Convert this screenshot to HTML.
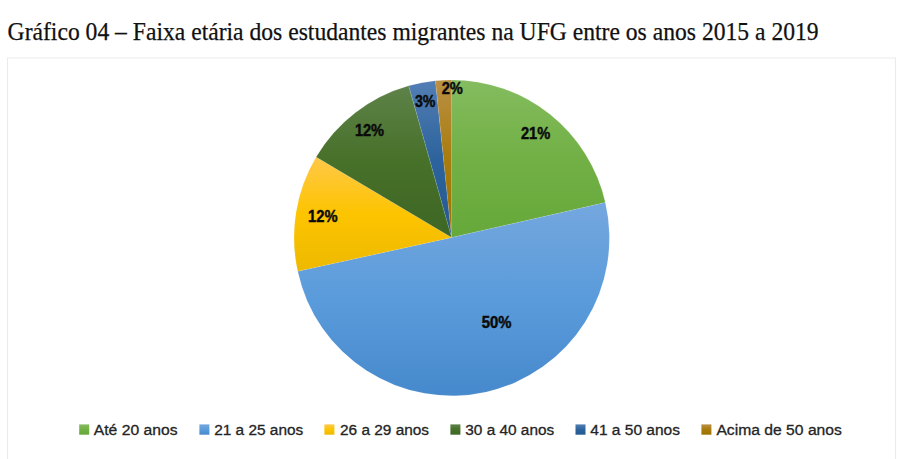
<!DOCTYPE html>
<html><head><meta charset="utf-8"><title>Gráfico 04</title><style>
html,body{margin:0;padding:0;background:#fff;}
body{width:901px;height:459px;overflow:hidden;}
svg{display:block;}
.t{font-family:"Liberation Serif",serif;font-size:24.6px;fill:#111;stroke:#111;stroke-width:0.25px;}
.lg{font-family:"Liberation Sans",sans-serif;font-size:14.9px;fill:#242424;stroke:#242424;stroke-width:0.3px;}
.dl{font-family:"Liberation Sans",sans-serif;font-size:15.7px;font-weight:bold;fill:#0a0a0a;stroke:#0a0a0a;stroke-width:0.45px;}
</style></head><body>
<svg width="901" height="459" viewBox="0 0 901 459">
<defs>
<linearGradient id="g" x1="0" y1="0" x2="0" y2="1"><stop offset="0" stop-color="#84BC5F"/><stop offset="0.5" stop-color="#72B045"/><stop offset="1" stop-color="#66A83A"/></linearGradient>
<linearGradient id="b" x1="0" y1="0" x2="0" y2="1"><stop offset="0" stop-color="#74A7DE"/><stop offset="0.5" stop-color="#5A9BDB"/><stop offset="1" stop-color="#4689CC"/></linearGradient>
<linearGradient id="y" x1="0" y1="0" x2="0" y2="1"><stop offset="0" stop-color="#FFC848"/><stop offset="0.5" stop-color="#FDC400"/><stop offset="1" stop-color="#EDB900"/></linearGradient>
<linearGradient id="dg" x1="0" y1="0" x2="0" y2="1"><stop offset="0" stop-color="#5E8249"/><stop offset="0.5" stop-color="#477029"/><stop offset="1" stop-color="#3E6625"/></linearGradient>
<linearGradient id="db" x1="0" y1="0" x2="0" y2="1"><stop offset="0" stop-color="#527EB4"/><stop offset="0.5" stop-color="#2D639C"/><stop offset="1" stop-color="#245A90"/></linearGradient>
<linearGradient id="br" x1="0" y1="0" x2="0" y2="1"><stop offset="0" stop-color="#BA9044"/><stop offset="0.5" stop-color="#A87C0E"/><stop offset="1" stop-color="#9C7200"/></linearGradient>
</defs>
<rect x="0" y="0" width="901" height="459" fill="#ffffff"/>
<path d="M7.5,459 V58 H895.5 V459" fill="none" stroke="#ebebeb" stroke-width="1.1"/>
<text x="7.6" y="39.6" class="t" textLength="811" lengthAdjust="spacingAndGlyphs">Gráfico 04 – Faixa etária dos estudantes migrantes na UFG entre os anos 2015 a 2019</text>
<path d="M451.65,237.5 L451.65,79.90 A157.6,157.6 0 0 1 605.33,202.58 Z" fill="url(#g)" stroke="#ffffff" stroke-opacity="0.16" stroke-width="0.6"/>
<path d="M451.65,237.5 L605.33,202.58 A157.6,157.6 0 1 1 297.73,271.34 Z" fill="url(#b)" stroke="#ffffff" stroke-opacity="0.16" stroke-width="0.6"/>
<path d="M451.65,237.5 L297.73,271.34 A157.6,157.6 0 0 1 316.14,157.04 Z" fill="url(#y)" stroke="#ffffff" stroke-opacity="0.16" stroke-width="0.6"/>
<path d="M451.65,237.5 L316.14,157.04 A157.6,157.6 0 0 1 408.74,85.85 Z" fill="url(#dg)" stroke="#ffffff" stroke-opacity="0.16" stroke-width="0.6"/>
<path d="M451.65,237.5 L408.74,85.85 A157.6,157.6 0 0 1 435.45,80.73 Z" fill="url(#db)" stroke="#ffffff" stroke-opacity="0.16" stroke-width="0.6"/>
<path d="M451.65,237.5 L435.45,80.73 A157.6,157.6 0 0 1 451.65,79.90 Z" fill="url(#br)" stroke="#ffffff" stroke-opacity="0.16" stroke-width="0.6"/>
<text x="520.9" y="138.65" class="dl" textLength="29.3" lengthAdjust="spacingAndGlyphs">21%</text>
<text x="354.9" y="136.45" class="dl" textLength="29.2" lengthAdjust="spacingAndGlyphs">12%</text>
<text x="308.0" y="222.35" class="dl" textLength="29.5" lengthAdjust="spacingAndGlyphs">12%</text>
<text x="481.8" y="327.65" class="dl" textLength="29.7" lengthAdjust="spacingAndGlyphs">50%</text>
<text x="414.9" y="107.25" class="dl" textLength="20.6" lengthAdjust="spacingAndGlyphs">3%</text>
<text x="441.7" y="93.55" class="dl" textLength="21.2" lengthAdjust="spacingAndGlyphs">2%</text>
<rect x="79.2" y="424.4" width="10" height="10.3" fill="url(#g)"/>
<text x="93.8" y="434.6" class="lg" textLength="83.7" lengthAdjust="spacingAndGlyphs">Até 20 anos</text>
<rect x="199.4" y="424.4" width="10" height="10.3" fill="url(#b)"/>
<text x="214.2" y="434.6" class="lg" textLength="89.1" lengthAdjust="spacingAndGlyphs">21 a 25 anos</text>
<rect x="324.4" y="424.4" width="10" height="10.3" fill="url(#y)"/>
<text x="340.0" y="434.6" class="lg" textLength="89.0" lengthAdjust="spacingAndGlyphs">26 a 29 anos</text>
<rect x="450.4" y="424.4" width="10" height="10.3" fill="url(#dg)"/>
<text x="465.3" y="434.6" class="lg" textLength="88.9" lengthAdjust="spacingAndGlyphs">30 a 40 anos</text>
<rect x="575.5" y="424.4" width="10" height="10.3" fill="url(#db)"/>
<text x="590.3" y="434.6" class="lg" textLength="89.7" lengthAdjust="spacingAndGlyphs">41 a 50 anos</text>
<rect x="701.4" y="424.4" width="10" height="10.3" fill="url(#br)"/>
<text x="716.4" y="434.6" class="lg" textLength="125.5" lengthAdjust="spacingAndGlyphs">Acima de 50 anos</text>
</svg>
</body></html>
